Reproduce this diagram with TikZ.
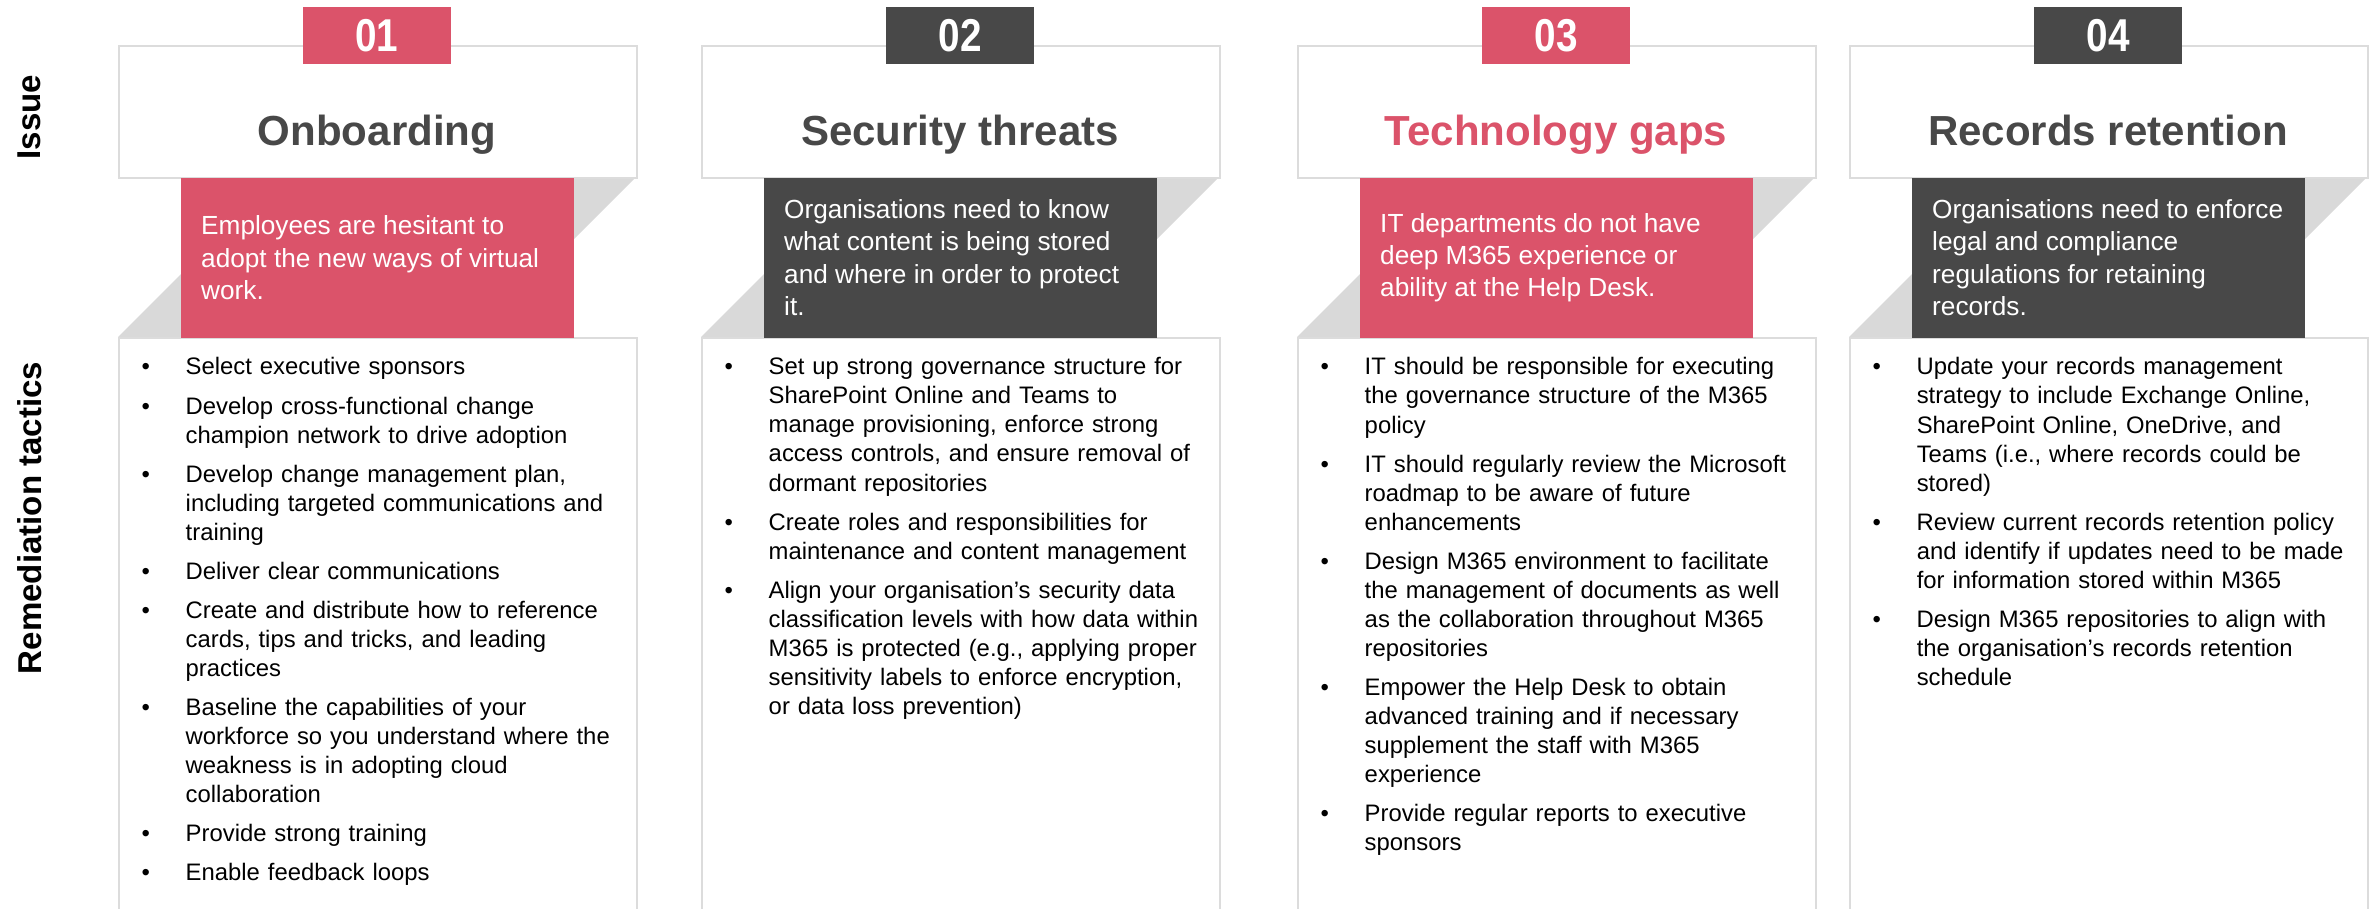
\documentclass[tikz,border=0pt]{standalone}
\usepackage{fontspec}
\setmainfont{Liberation Sans}
\newfontfamily\badgefont[FakeStretch=0.84]{Liberation Sans}
\usetikzlibrary{positioning}
\definecolor{issuered}{RGB}{219,83,106}
\definecolor{issuedark}{RGB}{72,72,72}
\definecolor{foldgray}{RGB}{217,217,217}
\definecolor{framegray}{RGB}{220,220,220}
\hyphenpenalty=10000
\newcommand{\tacitem}[1]{\hangindent=0.67cm\hangafter=1\noindent\makebox[0.67cm][l]{\hspace{0.23cm}\textbullet}#1\par\vspace{2.85pt}}
\tikzset
{
    badgebox/.style   = {rectangle, minimum width=1.47cm, minimum height=0.57cm, inner sep=0, text=white, font=\badgefont\bfseries\fontsize{13.1pt}{13.1pt}\selectfont},
    titlebox/.style   = {rectangle, draw=framegray, line width=0.02cm, fill=white, minimum width=5.18cm, minimum height=1.32cm, inner sep=0, anchor=north west},
    headtext/.style   = {anchor=base, inner sep=0, text=issuedark, font=\bfseries\fontsize{11.95pt}{11.95pt}\selectfont},
    issuebox/.style   = {rectangle, anchor=north west, minimum width=3.93cm, minimum height=1.60cm, inner sep=0},
    issuetext/.style  = {anchor=west, inner sep=0, align=left, text=white, font=\fontsize{7.45pt}{9.22pt}\selectfont},
    tacticbox/.style  = {rectangle, draw=framegray, line width=0.02cm, fill=white, minimum width=5.18cm, minimum height=5.9cm, inner sep=0, anchor=north west},
    tacticlist/.style = {anchor=north west, inner sep=0, text width=6cm, font=\raggedright\fontsize{6.78pt}{8.25pt}\selectfont},
    sidelabel/.style  = {rotate=90, inner sep=0, font=\bfseries\fontsize{9.4pt}{9.4pt}\selectfont}
}
\begin{document}
\begin{tikzpicture}[x=0.01cm, y=-0.01cm]
\useasboundingbox (0,0) rectangle (2374,909);
\clip (0,0) rectangle (2374,909);
\fill[white] (0,0) rectangle (2374,909);

% row labels
\node[sidelabel] (issuelabel) at (29,117) {Issue};
\node[sidelabel] (tacticlabel) at (30,518) {Remediation tactics};

% folds behind the issue boxes
\fill[foldgray] (278,177) -- (636,177) -- (476,337) -- (118,337) -- cycle;
\fill[foldgray] (861,177) -- (1219,177) -- (1059,337) -- (701,337) -- cycle;
\fill[foldgray] (1457,177) -- (1815,177) -- (1655,337) -- (1297,337) -- cycle;
\fill[foldgray] (2009,177) -- (2367,177) -- (2207,337) -- (1849,337) -- cycle;

% 01
\node[titlebox] (title1) at (118,45) {};
\node[tacticbox] (tactics1) at (118,337) {};
\node[badgebox, fill=issuered] (badge1) at (377,35.5) {01};
\node[headtext] (head1) at (377,145) {Onboarding};
\node[issuebox, fill=issuered] (issue1) at (180.5,177) {};
\node[issuetext, right=0.2cm of issue1.west] (issuetext1) {Employees are hesitant to\\adopt the new ways of virtual\\work.};
\node[tacticlist] (list1) at (118,357) {
\tacitem{Select executive sponsors}
\tacitem{Develop cross-functional change\newline champion network to drive adoption}
\tacitem{Develop change management plan,\newline including targeted communications and\newline training}
\tacitem{Deliver clear communications}
\tacitem{Create and distribute how to reference\newline cards, tips and tricks, and leading\newline practices}
\tacitem{Baseline the capabilities of your\newline workforce so you understand where the\newline weakness is in adopting cloud\newline collaboration}
\tacitem{Provide strong training}
\tacitem{Enable feedback loops}};

% 02
\node[titlebox] (title2) at (701,45) {};
\node[tacticbox] (tactics2) at (701,337) {};
\node[badgebox, fill=issuedark] (badge2) at (960,35.5) {02};
\node[headtext] (head2) at (960,145) {Security threats};
\node[issuebox, fill=issuedark] (issue2) at (763.5,177) {};
\node[issuetext, right=0.2cm of issue2.west] (issuetext2) {Organisations need to know\\what content is being stored\\and where in order to protect\\it.};
\node[tacticlist] (list2) at (701,357) {
\tacitem{Set up strong governance structure for\newline SharePoint Online and Teams to\newline manage provisioning, enforce strong\newline access controls, and ensure removal of\newline dormant repositories}
\tacitem{Create roles and responsibilities for\newline maintenance and content management}
\tacitem{Align your organisation’s security data\newline classification levels with how data within\newline M365 is protected (e.g., applying proper\newline sensitivity labels to enforce encryption,\newline or data loss prevention)}};

% 03
\node[titlebox] (title3) at (1297,45) {};
\node[tacticbox] (tactics3) at (1297,337) {};
\node[badgebox, fill=issuered] (badge3) at (1556,35.5) {03};
\node[headtext, text=issuered] (head3) at (1556,145) {Technology gaps};
\node[issuebox, fill=issuered] (issue3) at (1359.5,177) {};
\node[issuetext, right=0.2cm of issue3.west] (issuetext3) {IT departments do not have\\deep M365 experience or\\ability at the Help Desk.};
\node[tacticlist] (list3) at (1297,357) {
\tacitem{IT should be responsible for executing\newline the governance structure of the M365\newline policy}
\tacitem{IT should regularly review the Microsoft\newline roadmap to be aware of future\newline enhancements}
\tacitem{Design M365 environment to facilitate\newline the management of documents as well\newline as the collaboration throughout M365\newline repositories}
\tacitem{Empower the Help Desk to obtain\newline advanced training and if necessary\newline supplement the staff with M365\newline experience}
\tacitem{Provide regular reports to executive\newline sponsors}};

% 04
\node[titlebox] (title4) at (1849,45) {};
\node[tacticbox] (tactics4) at (1849,337) {};
\node[badgebox, fill=issuedark] (badge4) at (2108,35.5) {04};
\node[headtext] (head4) at (2108,145) {Records retention};
\node[issuebox, fill=issuedark] (issue4) at (1911.5,177) {};
\node[issuetext, right=0.2cm of issue4.west] (issuetext4) {Organisations need to enforce\\legal and compliance\\regulations for retaining\\records.};
\node[tacticlist] (list4) at (1849,357) {
\tacitem{Update your records management\newline strategy to include Exchange Online,\newline SharePoint Online, OneDrive, and\newline Teams (i.e., where records could be\newline stored)}
\tacitem{Review current records retention policy\newline and identify if updates need to be made\newline for information stored within M365}
\tacitem{Design M365 repositories to align with\newline the organisation’s records retention\newline schedule}};
\end{tikzpicture}
\end{document}
